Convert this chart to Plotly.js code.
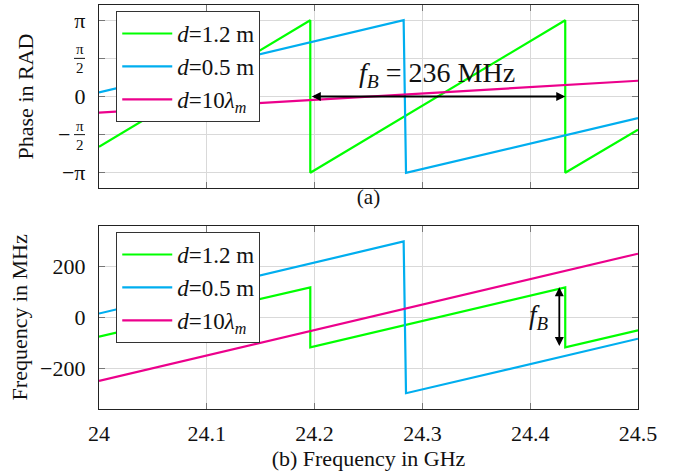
<!DOCTYPE html>
<html>
<head>
<meta charset="utf-8">
<script src="https://cdn.plot.ly/plotly-3.0.1.min.js"></script>
<style>html,body{margin:0;padding:0;background:#fff;}#chart{width:688px;height:475px;}</style>
</head>
<body>
<div id="chart"></div>
<script>
// ---- data (frequency in GHz) ----
const seriesNames = ['<i>d</i>=1.2 m', '<i>d</i>=0.5 m', '<i>d</i>=10<i>λ</i><sub><i>m</i></sub>'];
const seriesColors = ['#00ff00', '#00aeef', '#ec008c'];

// (a) phase in rad
const phaseGreenX = [24, 24.196, 24.196, 24.4325, 24.4325, 24.5];
const phaseGreenY = [-2.07, 3.1416, -3.1416, 3.1416, -3.1416, -1.37];
const phaseBlueX = [24, 24.2826, 24.2848, 24.5];
const phaseBlueY = [0.165, 3.1416, -3.1416, -0.893];
const phaseMagX = [24, 24.5];
const phaseMagY = [-0.66, 0.65];

// (b) frequency in MHz
const freqGreenX = [24, 24.196, 24.196, 24.4325, 24.4325, 24.5];
const freqGreenY = [-76, 118, -118, 118, -118, -51];
const freqBlueX = [24, 24.2826, 24.2848, 24.5];
const freqBlueY = [15, 298, -298, -84];
const freqMagX = [24, 24.5];
const freqMagY = [-250, 250];

const xTicks = [24, 24.1, 24.2, 24.3, 24.4, 24.5];
const xTickText = ['24', '24.1', '24.2', '24.3', '24.4', '24.5'];
const phaseTicks = [-Math.PI, -Math.PI / 2, 0, Math.PI / 2, Math.PI];
const phaseTickText = ['−π', ' ', '0', ' ', 'π'];
const freqTicks = [-200, 0, 200];
const freqTickText = ['−200', '0', '200'];

// f_B annotation data
const fbStart = 24.196, fbEnd = 24.4325;
const fbLabelX = 24.314, fbLabelY = 0.9;
const fbFreqX = 24.427, fbFreqTop = 118, fbFreqBottom = -118;

const FONT = 'Liberation Serif';
const lw = 2.2;

const traces = [
  {x: phaseGreenX, y: phaseGreenY, name: seriesNames[0], color: seriesColors[0], xa: 'x', ya: 'y', lg: 'legend'},
  {x: phaseBlueX, y: phaseBlueY, name: seriesNames[1], color: seriesColors[1], xa: 'x', ya: 'y', lg: 'legend'},
  {x: phaseMagX, y: phaseMagY, name: seriesNames[2], color: seriesColors[2], xa: 'x', ya: 'y', lg: 'legend'},
  {x: freqGreenX, y: freqGreenY, name: seriesNames[0], color: seriesColors[0], xa: 'x2', ya: 'y2', lg: 'legend2'},
  {x: freqBlueX, y: freqBlueY, name: seriesNames[1], color: seriesColors[1], xa: 'x2', ya: 'y2', lg: 'legend2'},
  {x: freqMagX, y: freqMagY, name: seriesNames[2], color: seriesColors[2], xa: 'x2', ya: 'y2', lg: 'legend2'}
].map(t => ({
  type: 'scatter', mode: 'lines', x: t.x, y: t.y, name: t.name,
  xaxis: t.xa, yaxis: t.ya, legend: t.lg,
  line: {color: t.color, width: lw}
}));

const axisCommon = {
  showline: true, linecolor: '#222', linewidth: 1.2, mirror: 'ticks',
  ticks: 'inside', ticklen: 6, tickcolor: '#777', tickwidth: 1.2,
  showgrid: true, gridcolor: '#d9d9d9', gridwidth: 1.2,
  zeroline: false, tickfont: {family: FONT, size: 22, color: '#111'}
};

const legendCommon = {
  bgcolor: '#fff', bordercolor: '#333', borderwidth: 1,
  font: {family: FONT, size: 23, color: '#111'},
  xanchor: 'left', yanchor: 'top', tracegroupgap: 0, itemwidth: 50
};

const fracFont = {family: FONT, size: 15, color: '#111'};

const layout = {
  width: 688, height: 475,
  margin: {l: 99, r: 50, t: 5, b: 66},
  paper_bgcolor: '#fff', plot_bgcolor: '#fff',
  showlegend: true,
  xaxis: Object.assign({}, axisCommon, {
    domain: [0, 1], anchor: 'y', range: [24, 24.5],
    tickvals: xTicks, ticktext: xTickText, showticklabels: false,
    title: {text: '(a)', font: {family: FONT, size: 21, color: '#111'}, standoff: 1}
  }),
  yaxis: Object.assign({}, axisCommon, {
    domain: [0.547, 1], anchor: 'x', range: [-1.2 * Math.PI, 1.2 * Math.PI],
    tickvals: phaseTicks, ticktext: phaseTickText, ticklabelstandoff: 8,
    title: {text: 'Phase in RAD', font: {family: FONT, size: 22, color: '#111'}, standoff: 22}
  }),
  xaxis2: Object.assign({}, axisCommon, {
    domain: [0, 1], anchor: 'y2', range: [24, 24.5],
    tickvals: xTicks, ticktext: xTickText, ticklabelstandoff: 4,
    title: {text: '(b) Frequency in GHz', font: {family: FONT, size: 22, color: '#111'}, standoff: 4}
  }),
  yaxis2: Object.assign({}, axisCommon, {
    domain: [0, 0.4537], anchor: 'x2', range: [-360, 360],
    tickvals: freqTicks, ticktext: freqTickText, ticklabelstandoff: 8,
    title: {text: 'Frequency in MHz', font: {family: FONT, size: 22, color: '#111'}, standoff: 6}
  }),
  legend: Object.assign({}, legendCommon, {x: 0.032, y: 0.985}),
  legend2: Object.assign({}, legendCommon, {x: 0.032, y: 0.438}),
  shapes: [Math.PI / 2, -Math.PI / 2].map(v => ({
    type: 'line', xref: 'paper', yref: 'y', xsizemode: 'pixel', xanchor: 0,
    x0: -25, x1: -14, y0: v, y1: v, line: {color: '#111', width: 1}
  })),
  annotations: [
    {xref: 'paper', yref: 'y', x: 0, y: Math.PI / 2, xanchor: 'center', yanchor: 'bottom',
     xshift: -19, yshift: -1, text: 'π', showarrow: false, font: fracFont},
    {xref: 'paper', yref: 'y', x: 0, y: Math.PI / 2, xanchor: 'center', yanchor: 'top',
     xshift: -19, yshift: 0, text: '2', showarrow: false, font: fracFont},
    {xref: 'paper', yref: 'y', x: 0, y: -Math.PI / 2, xanchor: 'center', yanchor: 'bottom',
     xshift: -19, yshift: -1, text: 'π', showarrow: false, font: fracFont},
    {xref: 'paper', yref: 'y', x: 0, y: -Math.PI / 2, xanchor: 'center', yanchor: 'top',
     xshift: -19, yshift: 0, text: '2', showarrow: false, font: fracFont},
    {xref: 'paper', yref: 'y', x: 0, y: -Math.PI / 2, xanchor: 'right', yanchor: 'middle',
     xshift: -27, text: '−', showarrow: false, font: {family: FONT, size: 22, color: '#111'}},
    {xref: 'x', yref: 'y', x: fbEnd, y: 0, axref: 'x', ayref: 'y', ax: fbStart, ay: 0,
     showarrow: true, arrowside: 'end+start', arrowhead: 2, arrowsize: 1, arrowwidth: 1.8,
     arrowcolor: '#000', text: '', standoff: 0, startstandoff: 0},
    {xref: 'x', yref: 'y', x: fbLabelX, y: fbLabelY, showarrow: false,
     text: '<i>f</i><sub><i>B</i></sub> = 236 MHz', font: {family: FONT, size: 28, color: '#111'}},
    {xref: 'x2', yref: 'y2', x: fbFreqX, y: fbFreqTop, axref: 'x2', ayref: 'y2', ax: fbFreqX, ay: fbFreqBottom,
     showarrow: true, arrowside: 'end+start', arrowhead: 2, arrowsize: 1, arrowwidth: 1.8,
     arrowcolor: '#000', text: '', standoff: 0, startstandoff: 0},
    {xref: 'x2', yref: 'y2', x: fbFreqX, y: 0, xanchor: 'right', xshift: -8, showarrow: false,
     text: '<i>f</i><sub><i>B</i></sub>', font: {family: FONT, size: 27, color: '#111'}}
  ]
};

Plotly.newPlot('chart', traces, layout, {staticPlot: true, displayModeBar: false});
</script>
</body>
</html>
